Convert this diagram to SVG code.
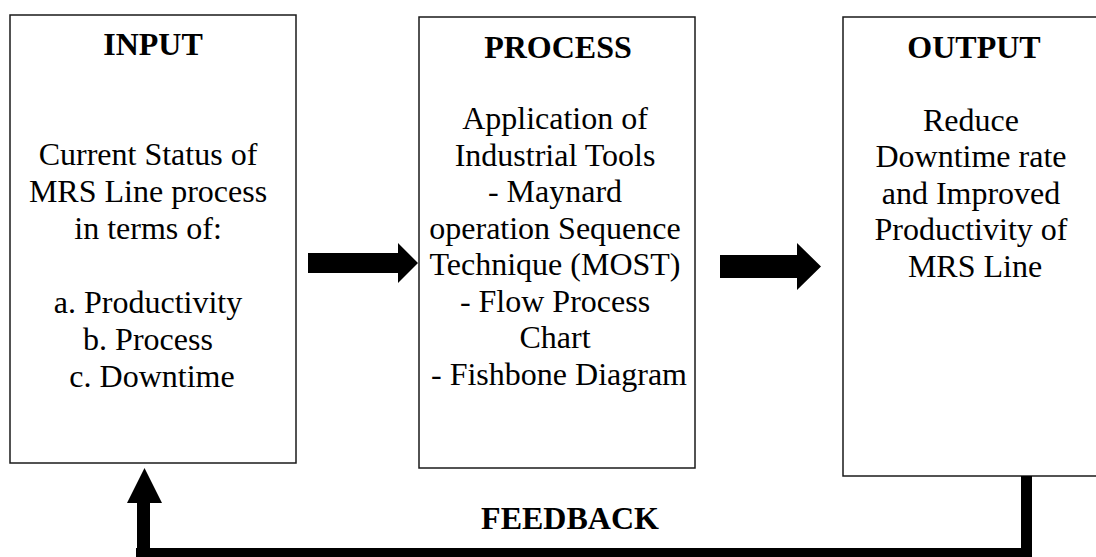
<svg xmlns="http://www.w3.org/2000/svg" width="1096" height="557" viewBox="0 0 1096 557">
  <style>
    .box { fill: #ffffff; stroke: #1a1a1a; stroke-width: 1.5; }
    .title { font-family: "Liberation Serif", "Times New Roman", serif; font-weight: bold; font-size: 32px; fill: #000; text-anchor: middle; }
    .body { font-family: "Liberation Serif", "Times New Roman", serif; font-size: 32px; fill: #000; text-anchor: middle; }
    .arrow { fill: #000; stroke: none; }
  </style>
  <rect x="0" y="0" width="1096" height="557" fill="#ffffff"/>

  <g id="input">
    <rect class="box" x="10" y="15" width="286" height="448"/>
    <text class="title" x="153" y="55">INPUT</text>
    <text class="body" x="152" y="165">
      <tspan x="152" y="165">Current Status of</tspan>
      <tspan x="152" y="202">MRS Line process</tspan>
      <tspan x="152" y="239">in terms of:</tspan>
      <tspan x="152" y="313">a. Productivity</tspan>
      <tspan x="152" y="350">b. Process</tspan>
      <tspan x="152" y="387">c. Downtime</tspan>
    </text>
  </g>

  <g id="process">
    <rect class="box" x="419" y="17" width="276" height="451"/>
    <text class="title" x="558" y="58">PROCESS</text>
    <text class="body" x="559" y="129">
      <tspan x="559" y="129">Application of</tspan>
      <tspan x="559" y="166">Industrial Tools</tspan>
      <tspan x="559" y="202">- Maynard</tspan>
      <tspan x="559" y="239">operation Sequence</tspan>
      <tspan x="559" y="275">Technique (MOST)</tspan>
      <tspan x="559" y="312">- Flow Process</tspan>
      <tspan x="559" y="348">Chart</tspan>
      <tspan x="559" y="385">- Fishbone Diagram</tspan>
    </text>
  </g>

  <g id="output">
    <rect class="box" x="843" y="17" width="262" height="459"/>
    <text class="title" x="974" y="58">OUTPUT</text>
    <text class="body" x="975" y="131">
      <tspan x="975" y="131">Reduce</tspan>
      <tspan x="975" y="167">Downtime rate</tspan>
      <tspan x="975" y="204">and Improved</tspan>
      <tspan x="975" y="240">Productivity of</tspan>
      <tspan x="975" y="277">MRS Line</tspan>
    </text>
  </g>

  <g id="connectors">
    <!-- input to process -->
    <polygon class="arrow" points="308,253 398,253 398,243 418,263 398,283 398,273 308,273"/>
    <!-- process to output -->
    <polygon class="arrow" points="720,255 797,255 797,243 821,266.5 797,290 797,278 720,278"/>
    <!-- feedback loop: output back to input -->
    <polygon class="arrow" points="1021,476 1032,476 1032,557 136,557 136,548 137,548 137,503 127,503 144.5,468 162,503 150,503 150,548 1021,548"/>
    <text class="title" x="570" y="529">FEEDBACK</text>
  </g>
</svg>
